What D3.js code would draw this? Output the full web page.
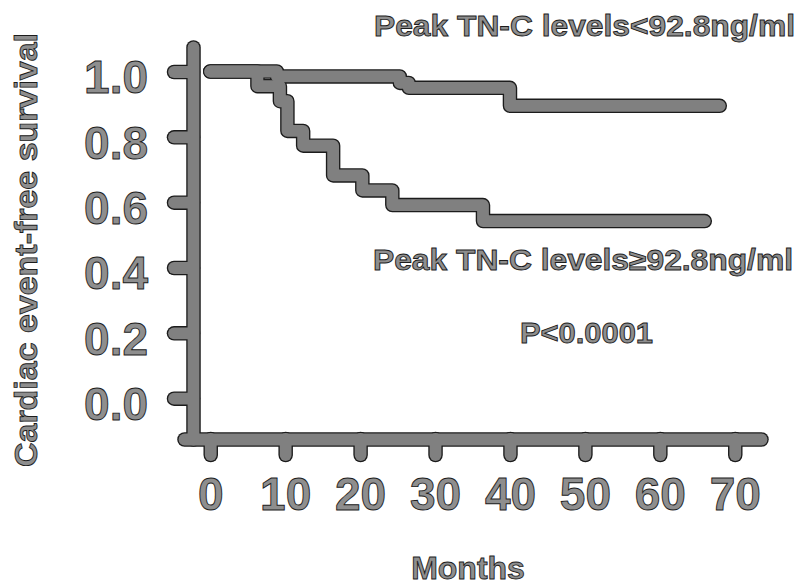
<!DOCTYPE html>
<html>
<head>
<meta charset="utf-8">
<script src="https://cdn.jsdelivr.net/npm/d3@7.9.0/dist/d3.min.js"></script>
<style>
  body { margin: 0; background: #fff; }
</style>
</head>
<body>
<div id="chart"></div>
<script>
// Kaplan-Meier steps
const lowMonths = [0, 8.9, 25.3, 26.5, 40, 68];
const lowSurvival = [1.0, 0.985, 0.965, 0.95, 0.895, 0.895];
const highMonths = [0, 6.3, 9.3, 10.3, 12.4, 16.4, 20.3, 24.3, 36.4, 66];
const highSurvival = [1.0, 0.955, 0.909, 0.818, 0.773, 0.682, 0.636, 0.591, 0.542, 0.542];

const yTicks = [0, 0.2, 0.4, 0.6, 0.8, 1.0];
const xTicks = [0, 10, 20, 30, 40, 50, 60, 70];

const lowLabel = 'Peak TN-C levels<92.8ng/ml';
const highLabel = 'Peak TN-C levels\u226592.8ng/ml';
const pLabel = 'P<0.0001';
const yTitle = 'Cardiac event-free survival';
const xTitle = 'Months';

const width = 801, height = 588;
const outline = '#1c1c1c', grey = '#808080', textGrey = '#8e8e8e';
const font = "'Liberation Sans', Arial, sans-serif";

const svg = d3.select('#chart').append('svg')
  .attr('width', width)
  .attr('height', height);

const x = d3.scaleLinear().domain([-3.5, 73.5]).range([184, 761]);
const y = d3.scaleLinear().domain([-0.125, 1.075]).range([439, 47]);

const line = d3.line()
  .x(d => x(d[0]))
  .y(d => y(d[1]))
  .curve(d3.curveStepAfter);

const series = [
  d3.zip(lowMonths, lowSurvival),
  d3.zip(highMonths, highSurvival),
];

// dark pass first, grey pass on top -> outlined thick strokes
[{ stroke: outline, w: 14.5 }, { stroke: grey, w: 11.8 }].forEach(layer => {
  const g = svg.append('g');
  g.append('g')
    .attr('transform', 'translate(193,0)')
    .call(d3.axisLeft(y).tickValues(yTicks).tickSize(19).tickSizeOuter(0).tickFormat(''));
  g.append('g')
    .attr('transform', 'translate(0,439)')
    .call(d3.axisBottom(x).tickValues(xTicks).tickSize(16).tickSizeOuter(0).tickFormat(''));
  g.selectAll('text').remove();

  series.forEach(s => {
    g.append('path').datum(s).attr('d', line);
  });

  g.selectAll('path, line')
    .attr('fill', 'none')
    .attr('stroke', layer.stroke)
    .attr('stroke-width', layer.w)
    .attr('stroke-linecap', 'round')
    .attr('stroke-linejoin', 'round');
});

function styleText(sel, size) {
  sel.attr('font-family', font)
    .attr('font-weight', 'bold')
    .attr('font-size', size)
    .attr('fill', textGrey)
    .attr('stroke', outline)
    .attr('stroke-width', 0.9);
}

// tick labels
const yLab = svg.append('g')
  .attr('transform', 'translate(193,0)')
  .call(d3.axisLeft(y).tickValues(yTicks).tickSize(19).tickPadding(26).tickFormat(d3.format('.1f')));
const xLab = svg.append('g')
  .attr('transform', 'translate(0,439)')
  .call(d3.axisBottom(x).tickValues(xTicks).tickSize(16).tickPadding(22).tickFormat(d3.format('d')));
[yLab, xLab].forEach(g => {
  g.select('.domain').remove();
  g.selectAll('line').remove();
  g.attr('font-size', null).attr('font-family', null);
  styleText(g.selectAll('text'), 46);
});
yLab.selectAll('text').attr('dy', '0.46em');

// titles and annotations
svg.append('text')
  .attr('transform', 'translate(37,250) rotate(-90)')
  .attr('text-anchor', 'middle')
  .attr('textLength', 434)
  .attr('lengthAdjust', 'spacingAndGlyphs')
  .text(yTitle)
  .call(styleText, 32);

svg.append('text')
  .attr('x', 468).attr('y', 579)
  .attr('text-anchor', 'middle')
  .text(xTitle)
  .call(styleText, 32);

svg.append('text')
  .attr('x', 374).attr('y', 36)
  .attr('textLength', 421)
  .attr('lengthAdjust', 'spacingAndGlyphs')
  .text(lowLabel)
  .call(styleText, 29);

svg.append('text')
  .attr('x', 373).attr('y', 270)
  .attr('textLength', 420)
  .attr('lengthAdjust', 'spacingAndGlyphs')
  .text(highLabel)
  .call(styleText, 29);

svg.append('text')
  .attr('x', 520).attr('y', 343)
  .attr('textLength', 133)
  .attr('lengthAdjust', 'spacingAndGlyphs')
  .text(pLabel)
  .call(styleText, 29);
</script>
</body>
</html>
